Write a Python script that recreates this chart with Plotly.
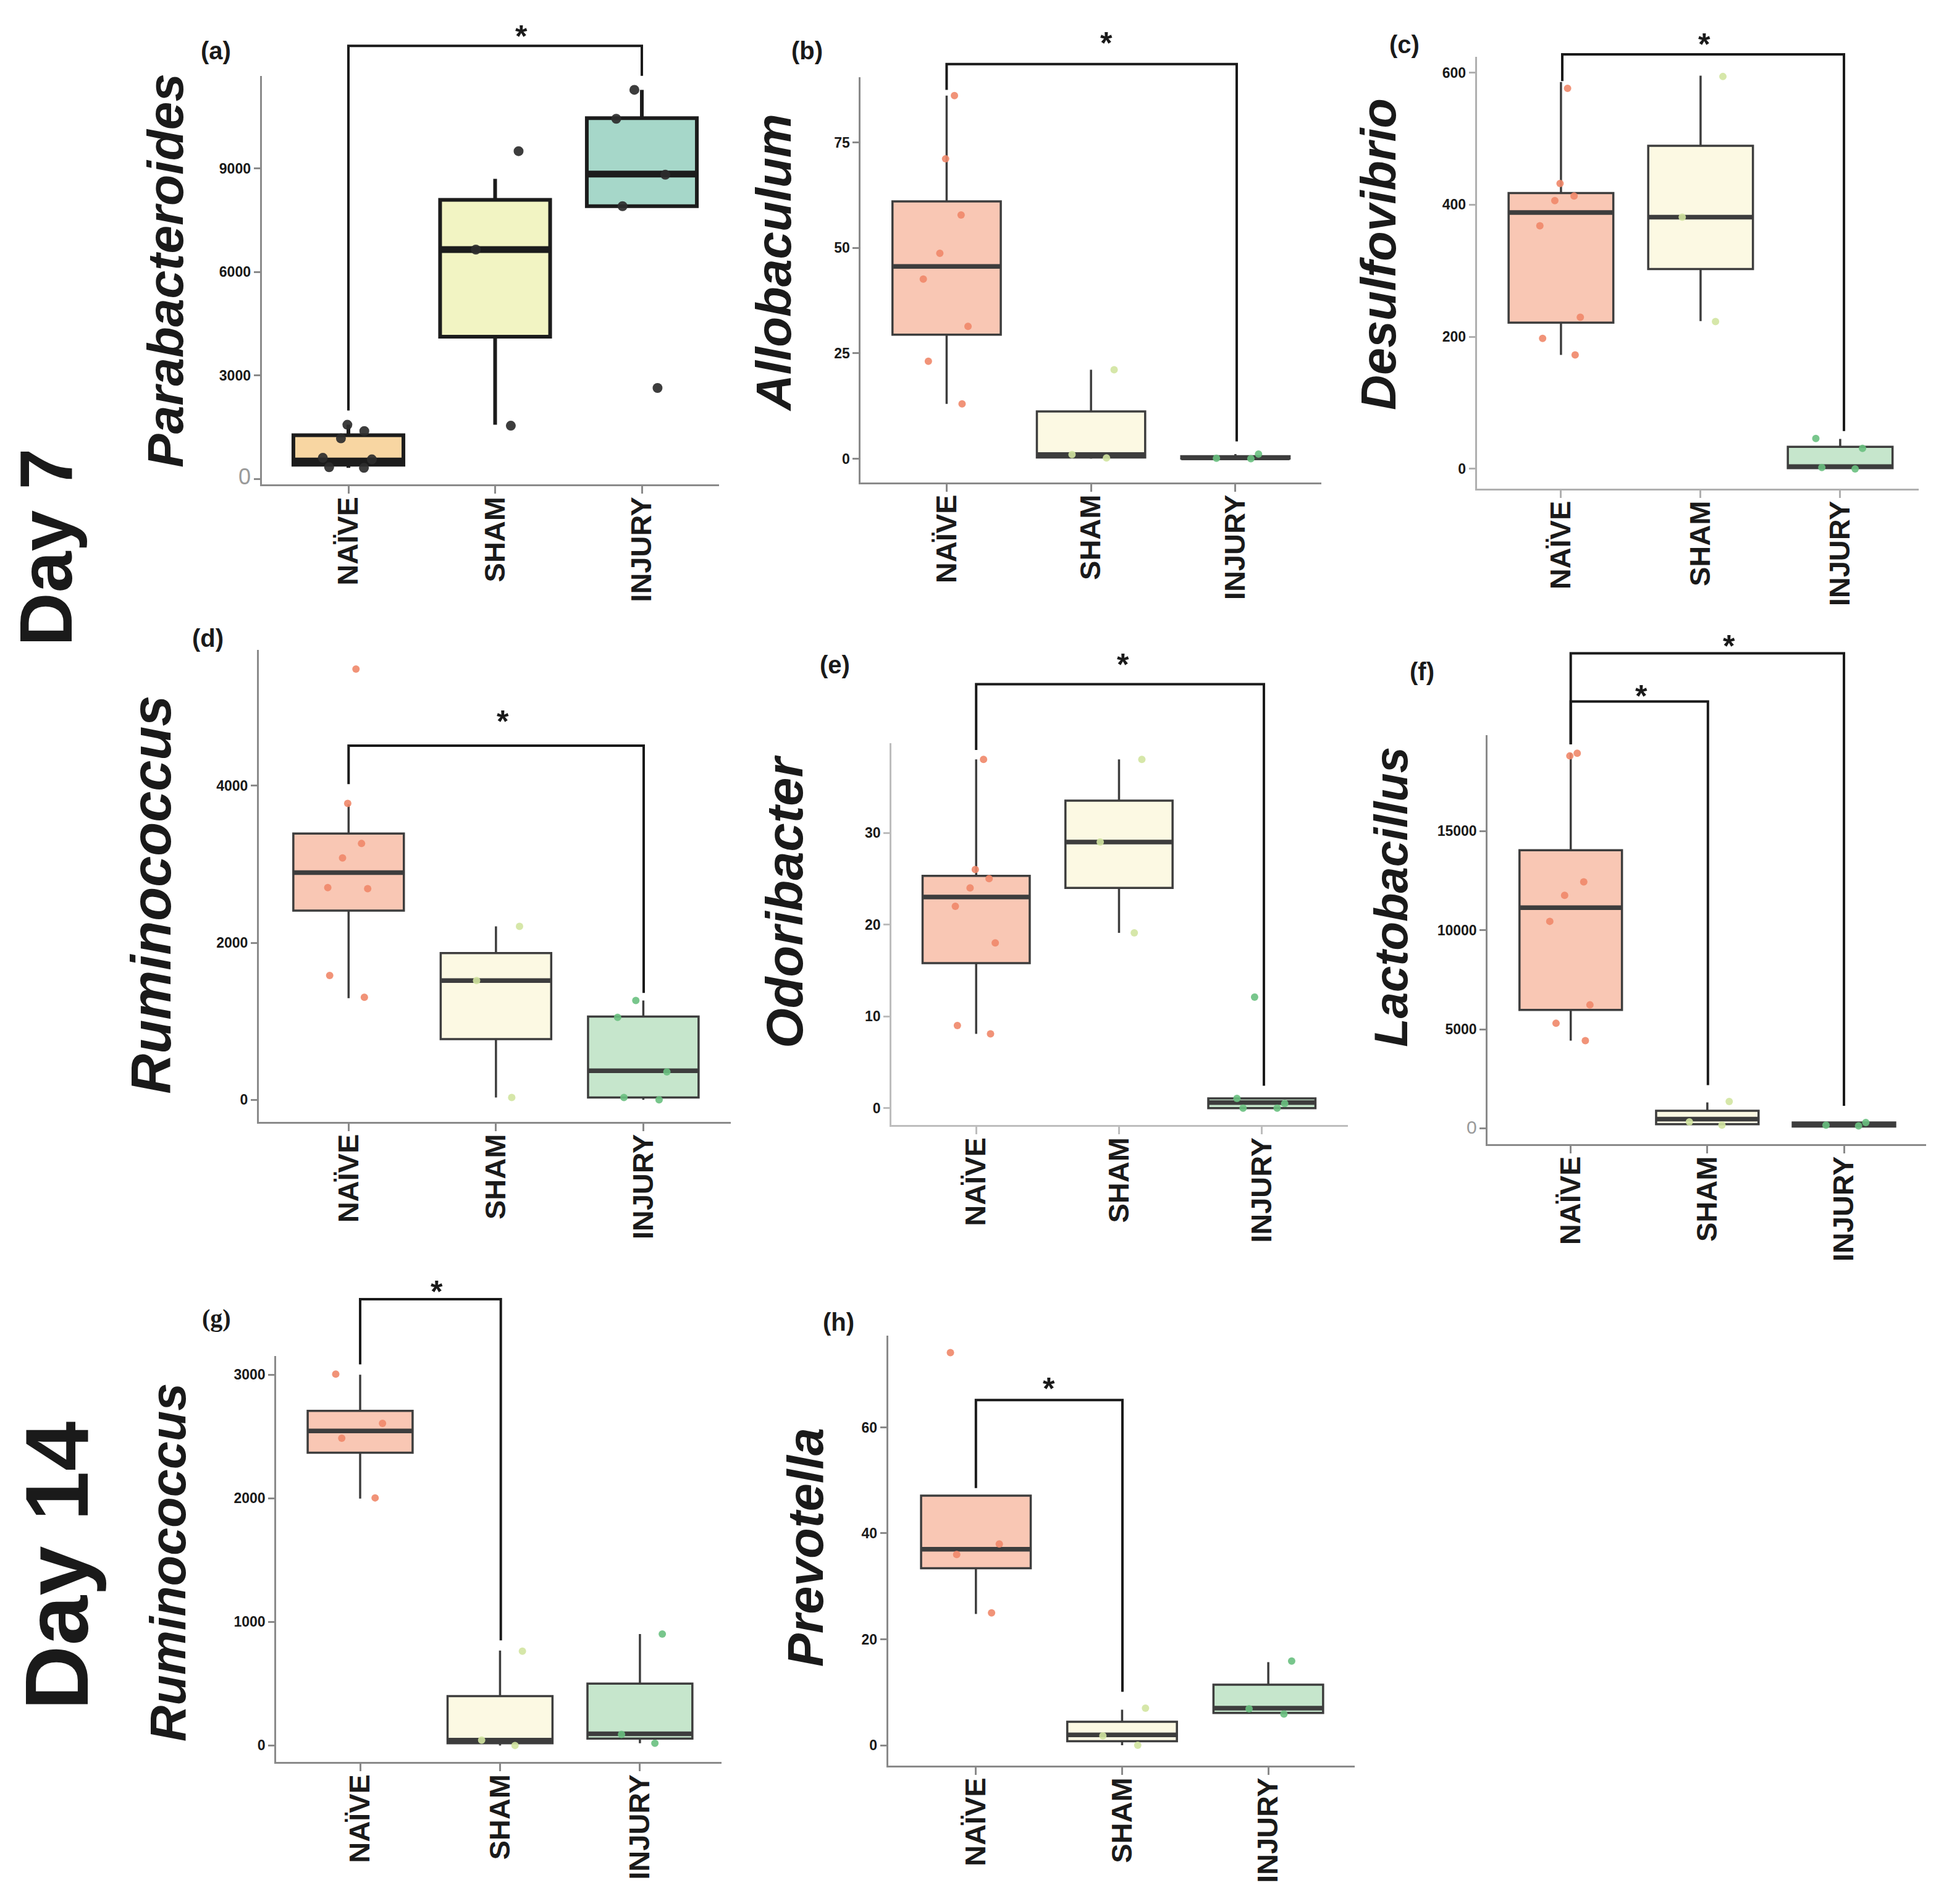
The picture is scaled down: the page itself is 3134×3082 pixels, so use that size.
import plotly.graph_objects as go

W, H = 3134, 3082
groups = ["NAÏVE", "SHAM", "INJURY"]

# ---------------- data ----------------
# (a) Parabacteroides, day 7
a_points = [[1394, 1576, 1184, 619, 346, 328, 574], [9502, 6650, 1549], [11278, 10440, 8818, 7908, 2642]]
a_q1 = [419, 4127, 7908]
a_med = [528, 6650, 8837]
a_q3 = [1275, 8090, 10458]
a_lo = [330, 1576, 7908]
a_hi = [1576, 8700, 11278]
a_ticks = [0, 3000, 6000, 9000]

# (b) Allobaculum, day 7
b_points = [[86.1, 71.1, 57.8, 48.7, 42.6, 31.4, 23.1, 13.0], [21.1, 0.2, 1.0], [0.0, 1.1, 0.1]]
b_q1 = [29.4, 0.3, 0.05]
b_med = [45.6, 1.0, 0.2]
b_q3 = [61.0, 11.2, 0.6]
b_lo = [13.0, 0.0, 0.0]
b_hi = [86.1, 21.1, 1.1]
b_ticks = [0, 25, 50, 75]

# (c) Desulfovibrio, day 7
c_points = [[576, 432, 413, 406, 368, 229.5, 197.6, 172.4], [594, 381, 223], [46, 31, 0, 2]]
c_q1 = [221.4, 302.4, 1.0]
c_med = [388.1, 381.0, 3.3]
c_q3 = [417.6, 489.0, 33.3]
c_lo = [172.4, 223.8, 0.0]
c_hi = [585.7, 595.2, 45.2]
c_ticks = [0, 200, 400, 600]

# (d) Ruminococcus, day 7
d_points = [[5485, 3774, 3264, 3081, 2702, 2689, 1583, 1306], [2209, 1519, 30], [1264, 1051, 357, 0, 30]]
d_q1 = [2409, 774, 30]
d_med = [2894, 1519, 370]
d_q3 = [3391, 1868, 1060]
d_lo = [1294, 30, 0]
d_hi = [3762, 2209, 1264]
d_ticks = [0, 2000, 4000]

# (e) Odoribacter, day 7
e_points = [[38.0, 26.0, 25.0, 24.0, 22.0, 18.0, 9.0, 8.1], [38.0, 29.0, 19.1], [12.1, 0.0, 0.5, 1.06, 0.0]]
e_q1 = [15.8, 24.0, 0.0]
e_med = [23.0, 29.0, 0.6]
e_q3 = [25.3, 33.5, 1.06]
e_lo = [8.1, 19.1, 0.0]
e_hi = [38.0, 38.0, 1.06]
e_ticks = [0, 10, 20, 30]

# (f) Lactobacillus, day 7
f_points = [[18928, 18793, 12439, 11765, 10450, 6236, 5309, 4433], [1365, 169, 337], [303, 169, 135]]
f_q1 = [5983, 219, 101]
f_med = [11141, 472, 185]
f_q3 = [14040, 893, 303]
f_lo = [4433, 169, 101]
f_hi = [18928, 1315, 303]
f_ticks = [0, 5000, 10000, 15000]

# (g) Ruminococcus, day 14
g_points = [[3005, 2606, 2486, 2003], [763, 0, 43], [901, 89, 18]]
g_q1 = [2369, 18, 56]
g_med = [2545, 43, 94]
g_q3 = [2707, 399, 501]
g_lo = [1997, 0, 18]
g_hi = [3000, 768, 901]
g_ticks = [0, 1000, 2000, 3000]

# (h) Prevotella, day 14
h_points = [[74.1, 38.0, 36.0, 25.0], [7.0, 1.8, 0.0], [15.9, 6.9, 5.9]]
h_q1 = [33.4, 0.77, 6.1]
h_med = [37.0, 1.96, 7.0]
h_q3 = [47.1, 4.45, 11.45]
h_lo = [24.8, 0.0, 6.1]
h_hi = [47.1, 6.7, 15.7]
h_ticks = [0, 20, 40, 60]

genus = ["Parabacteroides", "Allobaculum", "Desulfovibrio", "Ruminococcus",
         "Odoribacter", "Lactobacillus", "Ruminococcus", "Prevotella"]
panel_tags = ["(a)", "(b)", "(c)", "(d)", "(e)", "(f)", "(g)", "(h)"]
day_labels = ["Day 7", "Day 14"]

# ---------------- layout geometry (pixels in the 3134x3082 canvas) ----------------
geom = [
    dict(L=415.6, R=1156, T=114.8, B=778, c0=556, c2=1031, t0=(0, 769.4), t1=(9000, 265.3)),
    dict(L=1385.4, R=2131, T=117.3, B=774.5, c0=1524.4, c2=1991.9, t0=(0, 736.2), t1=(75, 223.0)),
    dict(L=2382.6, R=3098, T=84.2, B=784.7, c0=2518.9, c2=2970.9, t0=(0, 752.6), t1=(600, 109.7)),
    dict(L=410.9, R=1175, T=1046.1, B=1812, c0=556.3, c2=1033.4, t0=(0, 1776.3), t1=(4000, 1266.7)),
    dict(L=1435.1, R=2174, T=1197.9, B=1817.5, c0=1572.2, c2=2034.7, t0=(0, 1789.8), t1=(30, 1343.1)),
    dict(L=2400.2, R=3110, T=1184.3, B=1848, c0=2534.7, c2=2977, t0=(0, 1822.9), t1=(15000, 1340.4)),
    dict(L=439.2, R=1160, T=2191.6, B=2850.8, c0=575, c2=1027.9, t0=(0, 2823.8), t1=(3000, 2222.2)),
    dict(L=1429.6, R=2185.4, T=2158.7, B=2856.1, c0=1571.8, c2=2045.1, t0=(0, 2823.5), t1=(60, 2307.7)),
]
title_pos = [(259, 431, 82), (1244, 418, 80), (2223, 405, 79), (237, 1443, 90),
             (1263, 1455, 83), (2244, 1447, 76), (264, 2527, 81), (1296, 2503, 81)]
tag_pos = [(341, 74), (1298, 74), (2265, 64), (328, 1027), (1343, 1070), (2294, 1081), (342, 2130), (1349, 2137)]
# brackets: x_left, x_right, y_top, y_left_bottom, y_right_bottom, star_x, star_y
brackets = [
    [(556, 1031, 66.3, 658, 115, 836, 38)],
    [(1524.4, 1994, 95.9, 137.8, 708, 1783, 48.5)],
    [(2521, 2977, 80.1, 123.5, 691.3, 2751, 51)],
    [(556.3, 1034, 1201.7, 1264, 1602.8, 806, 1149)],
    [(1572.2, 2038, 1101.9, 1208.7, 1753.5, 1810, 1057)],
    [(2534.7, 2977, 1052, 1199.5, 1786, 2791, 1027), (2534.7, 2756.8, 1130, 1199.5, 1752.4, 2648.5, 1108.4)],
    [(575, 802.7, 2099.8, 2205.4, 2653.4, 699, 2074.3)],
    [(1571.8, 1809, 2263.3, 2406.1, 2736.7, 1690, 2231.6)],
]

panels = [
    (a_points, a_q1, a_med, a_q3, a_lo, a_hi, a_ticks),
    (b_points, b_q1, b_med, b_q3, b_lo, b_hi, b_ticks),
    (c_points, c_q1, c_med, c_q3, c_lo, c_hi, c_ticks),
    (d_points, d_q1, d_med, d_q3, d_lo, d_hi, d_ticks),
    (e_points, e_q1, e_med, e_q3, e_lo, e_hi, e_ticks),
    (f_points, f_q1, f_med, f_q3, f_lo, f_hi, f_ticks),
    (g_points, g_q1, g_med, g_q3, g_lo, g_hi, g_ticks),
    (h_points, h_q1, h_med, h_q3, h_lo, h_hi, h_ticks),
]

FONT = "Liberation Sans, Arial, sans-serif"
fill_a = ["#F8D6A2", "#F2F4C3", "#A6D7C9"]
fill_o = ["#F9C7B4", "#FCF9E3", "#C6E6CC"]
pt_o = ["rgba(240,135,105,0.9)", "rgba(210,228,160,0.9)", "rgba(105,192,128,0.9)"]
axis_col = ["#8a8a8a", "#8a8a8a", "#b0b0b0", "#8a8a8a", "#bdbdbd", "#8a8a8a", "#8a8a8a", "#8a8a8a"]


def px_x(x):
    return x / W


def px_y(y):
    return 1 - y / H


fig = go.Figure()
layout = dict(width=W, height=H, margin=dict(l=0, r=0, t=0, b=0),
              paper_bgcolor="white", plot_bgcolor="white", boxmode="overlay",
              showlegend=False, annotations=[], shapes=[])

for i, (pts, q1, med, q3, lo, hi, ticks) in enumerate(panels):
    n = i + 1
    xa = "x" if n == 1 else f"x{n}"
    ya = "y" if n == 1 else f"y{n}"
    gm = geom[i]
    first = (i == 0)
    fills = fill_a if first else fill_o
    edge = "#1c1c1c" if first else "#3d3d3d"
    lw = 6 if first else 3.5
    mlw = 11 if first else 7.5
    for g, grp in enumerate(groups):
        fig.add_trace(go.Box(x=[grp], q1=[q1[g]], median=[med[g]], q3=[q3[g]],
                             lowerfence=[lo[g]], upperfence=[hi[g]], orientation="v",
                             width=0.75, fillcolor=fills[g], line=dict(color=edge, width=lw),
                             whiskerwidth=0, boxpoints=False, xaxis=xa, yaxis=ya,
                             hoverinfo="skip"))
        fig.add_trace(go.Box(x=[grp], q1=[med[g]], median=[med[g]], q3=[med[g]],
                             lowerfence=[med[g]], upperfence=[med[g]], orientation="v",
                             width=0.75, fillcolor="rgba(0,0,0,0)", line=dict(color=edge, width=mlw),
                             whiskerwidth=0, boxpoints=False, xaxis=xa, yaxis=ya,
                             hoverinfo="skip"))
    for g, grp in enumerate(groups):
        mcol = "rgba(45,45,45,0.92)" if first else pt_o[g]
        msize = 16 if first else 12
        fig.add_trace(go.Box(x=[grp] * len(pts[g]), y=pts[g], boxpoints="all", jitter=0.55,
                             pointpos=0, width=0.75, fillcolor="rgba(0,0,0,0)",
                             line=dict(color="rgba(0,0,0,0)", width=0), whiskerwidth=0,
                             marker=dict(color=mcol, size=msize), xaxis=xa, yaxis=ya,
                             hoverinfo="skip"))

    # axis ranges from the measured geometry
    s = (gm["c2"] - gm["c0"]) / 2
    xr = [(gm["L"] - gm["c0"]) / s, (gm["R"] - gm["c0"]) / s]
    (v0, p0), (v1, p1) = gm["t0"], gm["t1"]
    k = (p0 - p1) / (v1 - v0)
    yr = [v0 - (gm["B"] - p0) / k, v0 + (p0 - gm["T"]) / k]

    ttext = [str(t) for t in ticks]
    if n == 1:
        ttext[0] = "<span style='font-weight:normal;color:#9a9a9a;font-size:36px'>0</span>"
    if n == 6:
        ttext[0] = "<span style='font-weight:normal;color:#9a9a9a;font-size:30px'>0</span>"

    layout["xaxis" if n == 1 else f"xaxis{n}"] = dict(
        domain=[px_x(gm["L"]), px_x(gm["R"])], anchor=ya, type="category",
        categoryorder="array", categoryarray=groups, range=xr,
        showline=True, linecolor=axis_col[i], linewidth=3, ticks="outside", ticklen=12,
        tickwidth=3, tickcolor=axis_col[i], tickangle=-90, showgrid=False, zeroline=False,
        tickfont=dict(family=FONT, size=47, color="#1a1a1a", weight="bold"),
        ticklabelstandoff=-14)
    layout["yaxis" if n == 1 else f"yaxis{n}"] = dict(
        domain=[px_y(gm["B"]), px_y(gm["T"])], anchor=xa, range=yr,
        tickvals=ticks, ticktext=ttext, showline=True, linecolor=axis_col[i], linewidth=3,
        ticks="outside", ticklen=10, tickwidth=3, tickcolor=axis_col[i], showgrid=False,
        zeroline=False, tickfont=dict(family=FONT, size=23, color="#1a1a1a", weight="bold"))

    tx, ty, tsz = title_pos[i]
    layout["annotations"].append(dict(
        text=f"<b><i>{genus[i]}</i></b>", x=px_x(tx), y=px_y(ty), xref="paper", yref="paper",
        textangle=-90, showarrow=False, xanchor="center", yanchor="middle",
        font=dict(family=FONT, size=tsz, color="#1a1a1a")))
    gx, gy = tag_pos[i]
    layout["annotations"].append(dict(
        text=f"<b>{panel_tags[i]}</b>", x=px_x(gx), y=px_y(gy), xref="paper", yref="paper",
        showarrow=False, xanchor="center", yanchor="middle",
        font=dict(family=("Liberation Serif, serif" if n == 7 else FONT), size=40, color="#1a1a1a")))
    for (xl, xr_, yt, ybl, ybr, sx, sy) in brackets[i]:
        path = (f"M {px_x(xl)},{px_y(ybl)} L {px_x(xl)},{px_y(yt)} "
                f"L {px_x(xr_)},{px_y(yt)} L {px_x(xr_)},{px_y(ybr)}")
        layout["shapes"].append(dict(type="path", path=path, xref="paper", yref="paper",
                                     line=dict(color="#1a1a1a", width=4)))
        ssz = 50
        layout["annotations"].append(dict(
            text="<b>*</b>", x=px_x(sx), y=px_y(sy + 0.27 * ssz), xref="paper", yref="paper",
            showarrow=False, xanchor="center", yanchor="middle",
            font=dict(family=FONT, size=ssz, color="#1a1a1a")))

# row labels
for lab, (lx, ly, lsz) in zip(day_labels, [(66, 880, 120), (84, 2532, 145)]):
    layout["annotations"].append(dict(
        text=f"<b>{lab}</b>", x=px_x(lx), y=px_y(ly), xref="paper", yref="paper",
        textangle=-90, showarrow=False, xanchor="center", yanchor="middle",
        font=dict(family=FONT, size=lsz, color="#1a1a1a")))

fig.update_layout(**layout)
fig.write_html("out.html")
